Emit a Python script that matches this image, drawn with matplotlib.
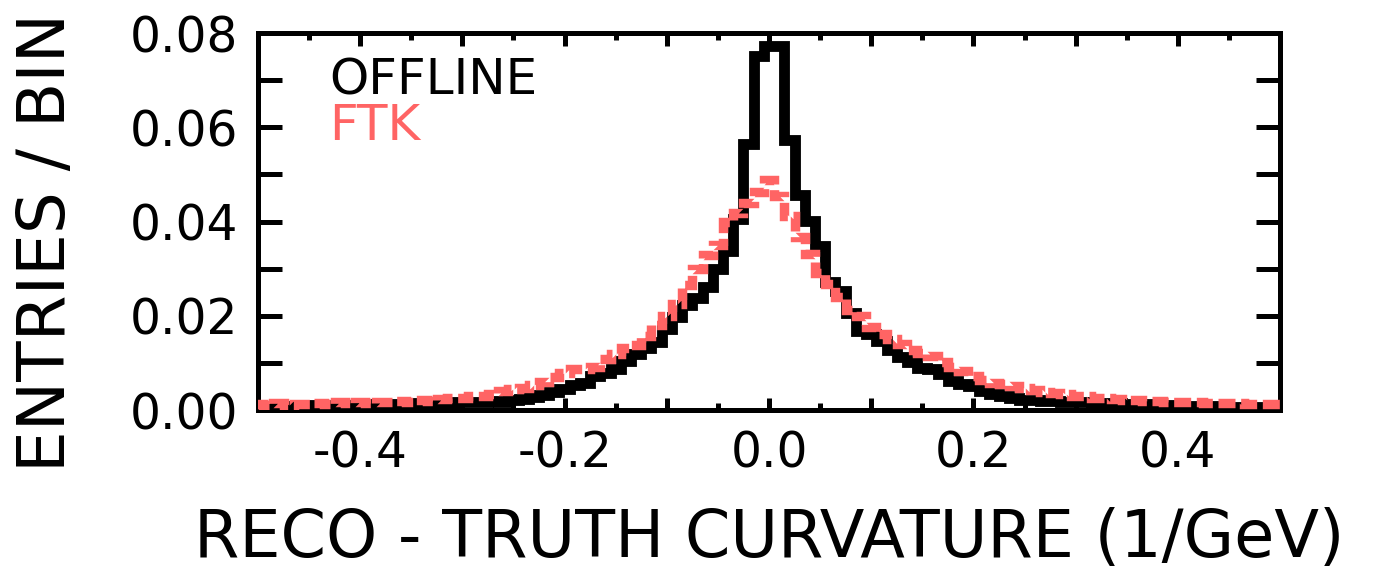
import numpy as np
import matplotlib
matplotlib.use("Agg")
import matplotlib.pyplot as plt
from matplotlib.ticker import MultipleLocator, FuncFormatter

# ============================================================
# DATA (fraction of entries per 0.01 bin, bins centred on -0.50 ... 0.50)
# ============================================================
bin_centers = np.round(np.arange(-0.50, 0.5001, 0.01), 2)

offline = [
    0.0008, 0.0008, 0.0007, 0.0008, 0.0009, 0.0008, 0.0010, 0.0009, 0.0010, 0.0011,   # -0.50 .. -0.41
    0.0010, 0.0012, 0.0011, 0.0012, 0.0013, 0.0012, 0.0014, 0.0013, 0.0015, 0.0014,   # -0.40 .. -0.31
    0.0016, 0.0017, 0.0016, 0.0019, 0.0018, 0.0021, 0.0023, 0.0027, 0.0032, 0.0038,   # -0.30 .. -0.21
    0.0045, 0.0052, 0.0058, 0.0072, 0.0078, 0.0088, 0.0105, 0.0118, 0.0132, 0.0145,   # -0.20 .. -0.11
    0.0172, 0.0198, 0.0222, 0.0238, 0.0262, 0.0300, 0.0338, 0.0405, 0.0565, 0.0752,   # -0.10 .. -0.01
    0.0772,                                                                           #  0.00
    0.0772, 0.0572, 0.0456, 0.0402, 0.0348, 0.0272, 0.0252, 0.0205, 0.0168, 0.0162,   #  0.01 .. 0.10
    0.0146, 0.0128, 0.0112, 0.0102, 0.0090, 0.0086, 0.0076, 0.0062, 0.0055, 0.0050,   #  0.11 .. 0.20
    0.0040, 0.0034, 0.0030, 0.0026, 0.0022, 0.0022, 0.0020, 0.0019, 0.0018, 0.0017,   #  0.21 .. 0.30
    0.0016, 0.0015, 0.0014, 0.0014, 0.0013, 0.0012, 0.0012, 0.0011, 0.0011, 0.0010,   #  0.31 .. 0.40
    0.0009, 0.0009, 0.0008, 0.0008, 0.0007, 0.0007, 0.0006, 0.0006, 0.0005, 0.0005,   #  0.41 .. 0.50
]

ftk = [
    0.0012, 0.0010, 0.0014, 0.0011, 0.0013, 0.0012, 0.0015, 0.0013, 0.0016, 0.0014,   # -0.50 .. -0.41
    0.0017, 0.0015, 0.0018, 0.0017, 0.0019, 0.0018, 0.0021, 0.0020, 0.0024, 0.0026,   # -0.40 .. -0.31
    0.0025, 0.0030, 0.0029, 0.0034, 0.0040, 0.0044, 0.0046, 0.0052, 0.0060, 0.0070,   # -0.30 .. -0.21
    0.0078, 0.0086, 0.0088, 0.0092, 0.0108, 0.0118, 0.0132, 0.0138, 0.0158, 0.0180,   # -0.20 .. -0.11
    0.0200, 0.0225, 0.0265, 0.0300, 0.0328, 0.0350, 0.0398, 0.0418, 0.0440, 0.0462,   # -0.10 .. -0.01
    0.0488,                                                                           #  0.00
    0.0455, 0.0412, 0.0368, 0.0330, 0.0290, 0.0268, 0.0240, 0.0212, 0.0200, 0.0176,   #  0.01 .. 0.10
    0.0162, 0.0150, 0.0140, 0.0128, 0.0122, 0.0115, 0.0102, 0.0092, 0.0082, 0.0072,   #  0.11 .. 0.20
    0.0064, 0.0058, 0.0055, 0.0050, 0.0046, 0.0042, 0.0039, 0.0036, 0.0033, 0.0030,   #  0.21 .. 0.30
    0.0029, 0.0026, 0.0025, 0.0023, 0.0022, 0.0021, 0.0020, 0.0019, 0.0018, 0.0017,   #  0.31 .. 0.40
    0.0016, 0.0016, 0.0015, 0.0015, 0.0014, 0.0014, 0.0013, 0.0013, 0.0012, 0.0012,   #  0.41 .. 0.50
]

x_label_ticks = [-0.4, -0.2, 0.0, 0.2, 0.4]

# ============================================================
# STYLE
# ============================================================
FTK_COLOR = "#ff6464"
plt.rcParams["font.family"] = ["DejaVu Sans"]
plt.rcParams["axes.unicode_minus"] = False

fig = plt.figure(figsize=(13.84, 5.70), dpi=100)
ax = fig.add_axes([0.1864, 0.2807, 0.7385, 0.6614])

edges = np.append(bin_centers - 0.005, bin_centers[-1] + 0.005)

ax.stairs(offline, edges, color="black", linewidth=7.8, baseline=None,
          joinstyle="miter", capstyle="butt", zorder=2)
ax.stairs(ftk, edges, color=FTK_COLOR, linewidth=6.8, baseline=None,
          linestyle=(0, (1.8, 0.6)), joinstyle="miter", capstyle="butt", zorder=3)

ax.set_xlim(-0.5, 0.5)
ax.set_ylim(0.0, 0.08)

# ticks: x every 0.05 (long at 0.1), labels only at 0.2 steps; y every 0.01, labels at 0.02
ax.xaxis.set_major_locator(MultipleLocator(0.1))
ax.xaxis.set_minor_locator(MultipleLocator(0.05))
ax.xaxis.set_major_formatter(FuncFormatter(
    lambda v, p: f"{v:.1f}".replace("-0.0", "0.0") if any(abs(v - t) < 1e-6 for t in x_label_ticks) else ""))
ax.yaxis.set_major_locator(MultipleLocator(0.02))
ax.yaxis.set_minor_locator(MultipleLocator(0.01))
ax.yaxis.set_major_formatter(FuncFormatter(lambda v, p: f"{v:.2f}"))

ax.tick_params(axis="both", which="both", direction="in", top=True, right=True,
               width=3.6, labelsize=35, pad=14)
ax.tick_params(axis="x", which="major", length=9)
ax.tick_params(axis="x", which="minor", length=5)
ax.tick_params(axis="y", which="both", length=17)

for s in ax.spines.values():
    s.set_linewidth(3.6)

ax.set_xlabel("RECO - TRUTH CURVATURE (1/GeV)", fontsize=47, labelpad=21)
# y label sits a bit below the axes centre in the reference
fig.text(47 / 1384, 1 - 242 / 570, "ENTRIES / BIN", fontsize=47.5,
         rotation=90, ha="center", va="center")

# legend as plain coloured text
ax.text(0.07, 0.875, "OFFLINE", transform=ax.transAxes, fontsize=36,
        color="black", va="center", ha="left")
ax.text(0.07, 0.753, "FTK", transform=ax.transAxes, fontsize=36,
        color=FTK_COLOR, va="center", ha="left")

fig.savefig("out.png", dpi=100)
